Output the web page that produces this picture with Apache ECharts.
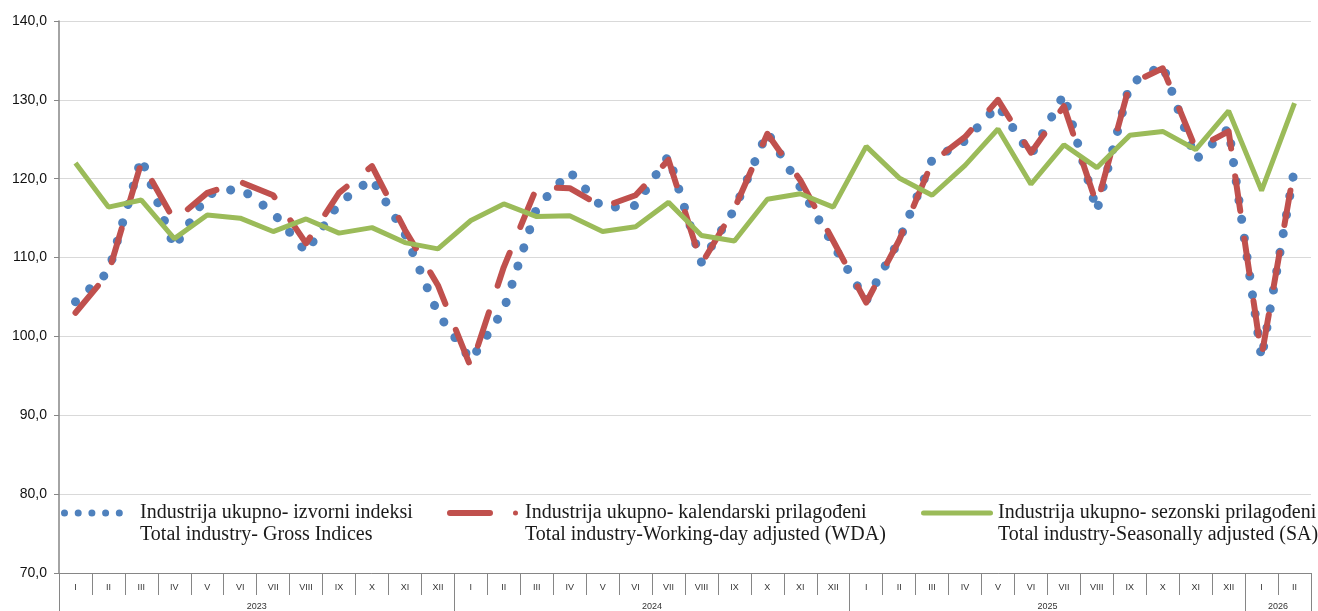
<!DOCTYPE html>
<html>
<head>
<meta charset="utf-8">
<script src="https://cdn.jsdelivr.net/npm/echarts@6/dist/echarts.min.js"></script>
<style>
  html, body { margin: 0; padding: 0; background: #fff; }
  #chart { width: 1318px; height: 611px; }
</style>
</head>
<body>
<div id="chart"></div>
<script>
// months and years on the two-level x axis
var monthNames = ['I', 'II', 'III', 'IV', 'V', 'VI', 'VII', 'VIII', 'IX', 'X', 'XI', 'XII'];
var years = ['2023', '2024', '2025', '2026'];
var monthsPerYear = [12, 12, 12, 2];

// y axis ticks
var yMin = 70, yMax = 140, yStep = 10;

// series names (two lines each, as in the legend)
var nameGross = 'Industrija ukupno- izvorni indeksi\nTotal industry- Gross Indices';
var nameWda = 'Industrija ukupno- kalendarski prilagođeni\nTotal industry-Working-day adjusted (WDA)';
var nameSa = 'Industrija ukupno- sezonski prilagođeni\nTotal industry-Seasonally adjusted (SA)';

// values
var grossIndex = [104.4, 108.2, 122.6, 111.3, 118.0, 118.8, 115.7, 110.7, 116.9, 120.0, 113.0, 102.9,
                  97.0, 103.4, 116.3, 120.9, 116.3, 116.6, 122.9, 109.4, 116.1, 125.9, 118.9, 111.6,
                  104.5, 112.2, 122.4, 124.8, 129.3, 123.0, 130.7, 115.9, 132.0, 134.4, 122.4, 126.4,
                  97.2, 121.3];
var workingDayAdj = [103.0, 108.0, 122.1, 114.7, 118.2, 119.6, 117.9, 111.8, 118.2, 121.6, 113.5, 106.5,
                     96.1, 108.8, 118.9, 118.8, 116.4, 117.9, 122.4, 109.2, 116.2, 125.7, 119.8, 112.1,
                     104.3, 112.2, 122.1, 125.3, 130.0, 123.3, 129.2, 116.7, 132.0, 134.0, 123.8, 126.0,
                     97.5, 121.5];
var seasonalAdj = [122.0, 116.4, 117.3, 112.4, 115.4, 115.0, 113.3, 114.9, 113.1, 113.8, 111.9, 111.1,
                   114.7, 116.8, 115.2, 115.3, 113.3, 113.9, 117.0, 112.8, 112.1, 117.4, 118.1, 116.4,
                   124.1, 120.1, 117.9, 121.7, 126.3, 119.3, 124.3, 121.4, 125.5, 126.0, 123.7, 128.6,
                   118.5, 129.6];

// build the month categories and year boundaries
var categories = [];
var yearEdges = [0];
var yearMiddles = [];
years.forEach(function (y, k) {
  var start = yearEdges[yearEdges.length - 1];
  for (var m = 0; m < monthsPerYear[k]; m++) categories.push(monthNames[m]);
  yearEdges.push(start + monthsPerYear[k]);
  yearMiddles.push(start + monthsPerYear[k] / 2);
});

var axisGray = '#868686';
var legendText = { fontFamily: 'Liberation Serif', fontSize: 20, lineHeight: 22, color: '#1a1a1a' };

// one legend box per series, the icon sits level with the first text line
function legendBox(name, left, icon, color, w, h) {
  return {
    left: left,
    top: 480,
    padding: 0,
    itemWidth: w,
    itemHeight: h,
    selectedMode: false,
    data: [{ name: name, icon: icon, itemStyle: { color: color, borderWidth: 0 } }],
    textStyle: legendText,
    formatter: function (n) { return '\n' + n; }
  };
}

var dotsIcon = 'path://' + [3.5, 17.2, 30.9, 44.6, 58.3].map(function (cx) {
  return 'M' + (cx - 3.5) + ',3.5A3.5,3.5 0 1 0 ' + (cx + 3.5) + ',3.5A3.5,3.5 0 1 0 ' + (cx - 3.5) + ',3.5Z';
}).join('') + 'M74,3.5L74,3.6Z';
var dashDotIcon = 'path://M3,0L43,0A3,3 0 0 1 43,6L3,6A3,3 0 0 1 3,0ZM66,3A2.5,2.5 0 1 0 71,3A2.5,2.5 0 1 0 66,3ZM73,3L73,3.1Z';
var barIcon = 'path://M2.5,0L69.5,0A2.5,2.5 0 0 1 69.5,5L2.5,5A2.5,2.5 0 0 1 2.5,0Z';

var chart = echarts.init(document.getElementById('chart'));
chart.setOption({
  animation: false,
  backgroundColor: '#fff',
  grid: { left: 59, right: 7, top: 21, bottom: 38 },
  legend: [
    legendBox(nameGross, 61, dotsIcon, '#4f81bd', 74, 7),
    legendBox(nameWda, 447, dashDotIcon, '#c0504d', 73, 6),
    legendBox(nameSa, 921, barIcon, '#9bbb59', 72, 5)
  ],
  xAxis: [
    {
      type: 'category',
      data: categories,
      boundaryGap: true,
      axisLine: { lineStyle: { color: axisGray, width: 1 } },
      axisTick: { show: true, interval: 0, length: 22, lineStyle: { color: axisGray } },
      axisLabel: { interval: 0, fontSize: 9, color: '#333', margin: 10, fontFamily: 'Liberation Sans' },
      splitLine: { show: false }
    },
    {
      type: 'value',
      position: 'bottom',
      min: 0,
      max: categories.length,
      axisLine: { show: false },
      splitLine: { show: false },
      axisTick: { show: true, customValues: yearEdges, length: 40, lineStyle: { color: axisGray } },
      axisLabel: {
        customValues: yearMiddles,
        fontSize: 9,
        color: '#333',
        margin: 29,
        fontFamily: 'Liberation Sans',
        formatter: function (v) {
          var k = yearMiddles.indexOf(v);
          return k >= 0 ? years[k] : '';
        }
      }
    }
  ],
  yAxis: {
    type: 'value',
    min: yMin,
    max: yMax,
    interval: yStep,
    axisLine: { show: true, lineStyle: { color: axisGray, width: 1.5 } },
    axisTick: { show: true, length: 5, lineStyle: { color: axisGray } },
    axisLabel: {
      fontSize: 14,
      color: '#111',
      margin: 12,
      fontFamily: 'Liberation Sans',
      formatter: function (v) { return v.toFixed(1).replace('.', ','); }
    },
    splitLine: { lineStyle: { color: '#d9d9d9', width: 1 } }
  },
  series: [
    {
      name: nameGross,
      type: 'line',
      data: grossIndex,
      symbol: 'none',
      silent: true,
      color: '#4f81bd',
      lineStyle: { color: '#4f81bd', width: 9, type: [0.1, 19], cap: 'round', join: 'round' },
      z: 2
    },
    {
      name: nameWda,
      type: 'line',
      data: workingDayAdj,
      symbol: 'none',
      silent: true,
      color: '#c0504d',
      lineStyle: { color: '#c0504d', width: 6, type: [35, 28], cap: 'round', join: 'round' },
      z: 3
    },
    {
      name: nameSa,
      type: 'line',
      data: seasonalAdj,
      symbol: 'none',
      silent: true,
      color: '#9bbb59',
      lineStyle: { color: '#9bbb59', width: 5 },
      z: 4
    }
  ]
});
</script>
</body>
</html>
